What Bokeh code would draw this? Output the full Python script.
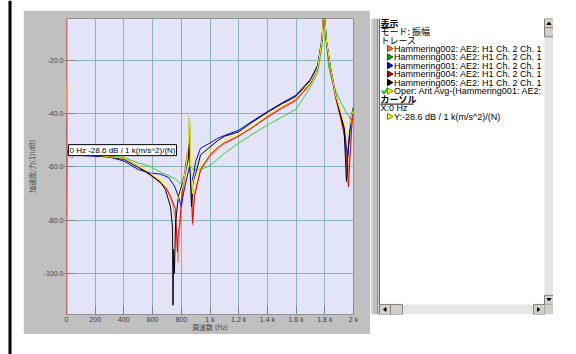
from bokeh.plotting import figure
from bokeh.models import Range1d, FixedTicker, Label, Span, Spacer
from bokeh.layouts import row, column
from bokeh.core.properties import value
from bokeh.embed import file_html
from bokeh.resources import INLINE

# ---------------- data ----------------
x_ticks = [0, 200, 400, 600, 800, 1000, 1200, 1400, 1600, 1800, 2000]
x_tick_labels = ["0", "200", "400", "600", "800", "1 k", "1.2 k", "1.4 k", "1.6 k", "1.8 k", "2 k"]
y_ticks = [-100, -80, -60, -40, -20]
y_tick_labels = ["-100.0", "-80.0", "-60.0", "-40.0", "-20.0"]

f_002 = [0, 4, 10, 35, 60, 100, 200, 300, 400, 500, 600, 650, 700, 740, 760, 778, 786, 800, 830, 850,
         857, 866, 880, 892, 934, 1000, 1052, 1100, 1200, 1300, 1400, 1500, 1600, 1700, 1750, 1780, 1795, 1810, 1840, 1875,
         1910, 1935, 1962, 1975, 1990, 2000]
db_002 = [-29, -50, -55, -57, -55.3, -55.4, -55.6, -56.2, -56.9, -59.8, -63.3, -65.5, -68.5, -74, -80, -96, -86, -75, -62, -54,
          -52.5, -63, -82, -70, -61.5, -56, -53.5, -51.5, -48.5, -45, -41, -37.5, -34.5, -28.5, -23, -13, -1, -12, -23.5, -33.5,
          -41, -46.5, -63, -55, -43, -40]

f_003 = [0, 4, 10, 60, 100, 200, 300, 400, 500, 584, 655, 700, 760, 795, 830, 857, 866, 885, 934, 1000,
         1100, 1200, 1300, 1400, 1500, 1600, 1700, 1750, 1780, 1792, 1800, 1812, 1826, 1850, 1880, 1910, 1950, 1979, 1990, 2000]
db_003 = [-55, -54, -55, -55.2, -55.3, -55.4, -55.9, -56.5, -58.5, -59.8, -62, -63, -64.6, -66.4, -62, -54.6, -60, -61, -61, -59.5,
          -55, -51, -47.6, -44.3, -41.3, -38.3, -30, -24.5, -15, -6, -2, -14, -22, -27.5, -32, -35.5, -39.5, -41.7, -39.5, -37]

f_001 = [0, 4, 10, 60, 100, 200, 300, 400, 500, 584, 655, 712, 750, 780, 800, 815, 835, 857, 870, 885,
         900, 934, 1000, 1052, 1100, 1200, 1300, 1400, 1500, 1600, 1700, 1750, 1780, 1790, 1795, 1800, 1810, 1840, 1875, 1910,
         1935, 1950, 1958, 1968, 1982, 2000]
db_001 = [-40, -52, -55, -55.5, -55.7, -56, -56.3, -57.8, -61, -62.3, -62.7, -64, -67, -71, -75, -70, -65, -60, -66, -63,
          -58, -53, -51, -49.3, -48.2, -46.2, -42.6, -39.2, -36, -33, -27, -21.8, -12, -4, 0, -4, -12, -22.5, -32.5, -40,
          -45, -52, -56.5, -51, -43, -38]

f_004 = [0, 4, 10, 60, 100, 200, 300, 400, 500, 584, 690, 725, 760, 773, 779, 788, 808, 843, 857, 871,
         878, 892, 934, 1000, 1052, 1100, 1200, 1300, 1400, 1500, 1600, 1700, 1750, 1780, 1790, 1795, 1800, 1810, 1840, 1875,
         1910, 1935, 1955, 1965, 1975, 1990, 2000]
db_004 = [-78, -56, -55, -55.3, -55.4, -55.6, -56.2, -56.8, -59.7, -63, -67.5, -71, -76, -92, -85, -82, -68.6, -54, -51.7, -68.6,
          -81, -71, -61, -55.5, -52.8, -51, -48.4, -45, -41.3, -38, -35, -28.7, -23, -13, -5, -1, -5, -13, -24, -34,
          -41.5, -48, -60, -67.5, -57, -43, -40]

f_005 = [0, 4, 10, 60, 100, 200, 300, 400, 500, 584, 655, 690, 725, 739, 742, 746, 752, 760, 780, 815,
         850, 857, 864, 871, 885, 934, 1000, 1052, 1100, 1200, 1300, 1400, 1500, 1600, 1700, 1750, 1780, 1790, 1795, 1800,
         1810, 1840, 1875, 1910, 1935, 1951, 1958, 1965, 1980, 2000]
db_005 = [-48, -47, -54.5, -55.3, -55.5, -55.7, -56.3, -57.2, -60.2, -63, -65.7, -68.6, -75, -83, -112, -91, -100, -81, -71, -65,
          -56.5, -39, -65, -75, -66, -55.5, -52.5, -50.2, -48.5, -46.8, -43, -39.5, -36.3, -33.5, -27.5, -22.3, -12, -4, 0, -4,
          -12, -23, -33, -40.6, -46, -65.5, -58, -52, -42, -38]

f_op = [0, 4, 10, 60, 100, 200, 300, 400, 500, 584, 655, 725, 780, 808, 836, 850, 857, 864, 878, 892,
        934, 1000, 1052, 1100, 1200, 1300, 1400, 1500, 1600, 1700, 1750, 1780, 1790, 1795, 1800, 1810, 1840, 1875, 1910, 1935,
        1950, 1960, 1975, 1990, 2000]
db_op = [-28.6, -44, -54, -55.3, -55.4, -55.6, -56.2, -56.8, -59.7, -62, -65, -69.4, -72, -67.5, -59, -50, -39, -58, -70, -65,
         -58.3, -54, -51.6, -50, -47.6, -44, -40.3, -37, -34, -28, -22.8, -12.5, -4, 0, -4, -12, -23, -33, -39, -43.5,
         -46.5, -48, -44, -40, -38.5]

series_names = ["Hammering002", "Hammering003", "Hammering001", "Hammering004", "Hammering005", "Oper"]
series_freqs = [f_002, f_003, f_001, f_004, f_005, f_op]
series_dbs = [db_002, db_003, db_001, db_004, db_005, db_op]
series_colors = ["#ff8060", "#30d030", "#0000ff", "#e00000", "#000000", "#ffff00"]

cursor_text = "0 Hz -28.6 dB / 1 k(m/s^2)/(N)"
cursor_y = -53.7

legend_rows = ["表示", "モード: 振幅", "トレース",
               "Hammering002: AE2: H1 Ch. 2 Ch. 1",
               "Hammering003: AE2: H1 Ch. 2 Ch. 1",
               "Hammering001: AE2: H1 Ch. 2 Ch. 1",
               "Hammering004: AE2: H1 Ch. 2 Ch. 1",
               "Hammering005: AE2: H1 Ch. 2 Ch. 1",
               "Oper: Arit Avg-(Hammering001: AE2:",
               "カーソル", "X:0 Hz",
               "Y:-28.6 dB / 1 k(m/s^2)/(N)"]
legend_marker_colors = ["#ff7040", "#00b000", "#0000e0", "#c00000", "#000000", "#ffff00"]


def blank(width, height):
    f = figure(width=width, height=height, x_range=Range1d(0, width), y_range=Range1d(height, 0),
               output_backend="svg", toolbar_location=None, min_border=0, margin=0,
               x_axis_type=None, y_axis_type=None,
               background_fill_color="white", border_fill_color="white", outline_line_color=None)
    return f


# ---------------- main plot ----------------
p = figure(width=347, height=324, x_range=Range1d(0, 2000), y_range=Range1d(-115.5, -4.2),
           output_backend="svg", toolbar_location=None,
           min_border_left=43, min_border_right=17, min_border_top=8, min_border_bottom=14,
           background_fill_color="#e4e4f8", border_fill_color="#c0c0c0",
           outline_line_color="#909090", margin=0)

for f, d, c in zip(series_freqs, series_dbs, series_colors):
    p.line(f, d, line_color=c, line_width=1)

p.xaxis.ticker = FixedTicker(ticks=x_ticks)
p.xaxis.major_label_overrides = {t: l for t, l in zip(x_ticks, x_tick_labels)}
p.yaxis.ticker = FixedTicker(ticks=y_ticks)
p.yaxis.major_label_overrides = {t: l for t, l in zip(y_ticks, y_tick_labels)}

for ax in (p.xaxis[0], p.yaxis[0]):
    ax.axis_line_color = None
    ax.minor_tick_line_color = None
    ax.major_tick_line_color = "#808080"
    ax.major_label_text_font = "Liberation Sans"
    ax.major_label_text_font_size = "7px"
    ax.major_label_text_color = "#404040"
    ax.major_label_standoff = 0
    ax.axis_label_text_font = "Noto Sans CJK JP"
    ax.axis_label_text_font_size = "7px"
    ax.axis_label_text_font_style = "normal"
    ax.axis_label_text_color = "#404040"

p.xaxis.major_tick_in = 8
p.xaxis.major_tick_out = 0
p.xaxis.major_label_standoff = 1
p.xaxis.axis_label = "周波数 (Hz)"
p.xaxis.axis_label_standoff = -4
p.yaxis.major_tick_in = 9
p.yaxis.major_tick_out = 3
p.yaxis.axis_label = "加速度/力(1)(dB)"
p.yaxis.axis_label_standoff = 4

p.xgrid.grid_line_color = "#88b4b8"
p.ygrid.grid_line_color = "#88b4b8"

p.add_layout(Span(location=0, dimension="height", line_color="#ff5a5a", line_width=2))
p.add_layout(Label(x=0, y=cursor_y, x_offset=2, text=cursor_text, text_font="Liberation Sans",
                   text_font_size="8px", text_baseline="middle", text_color="black",
                   background_fill_color="white", border_line_color="black", padding=1))

# ---------------- legend / info panel ----------------
lp = blank(175, 324)

row_y = [5 + 9.3 * i for i in range(len(legend_rows))]
jp_idx = [0, 1, 2, 9]
bold_idx = [0, 9]
lat_idx = [i for i in range(len(legend_rows)) if i not in jp_idx]
text_x = [2, 2, 2, 15.5, 15.5, 15.5, 15.5, 15.5, 15.5, 2, 2, 15.5]

lp.text(x=[text_x[i] for i in jp_idx if i not in bold_idx], y=[row_y[i] for i in jp_idx if i not in bold_idx],
        text=[legend_rows[i] for i in jp_idx if i not in bold_idx],
        text_font=value("Noto Sans CJK JP"), text_font_size="9px", text_baseline="middle", text_color="black")
lp.text(x=[text_x[i] for i in bold_idx], y=[row_y[i] for i in bold_idx],
        text=[legend_rows[i] for i in bold_idx], text_font_style="bold",
        text_font=value("Noto Sans CJK JP"), text_font_size="9px", text_baseline="middle", text_color="black")
lp.text(x=[text_x[i] for i in lat_idx], y=[row_y[i] for i in lat_idx],
        text=[legend_rows[i] for i in lat_idx],
        text_font=value("Liberation Sans"), text_font_size="9px", text_baseline="middle", text_color="black")

lp.segment(x0=[2, 2], y0=[row_y[0] + 5, row_y[9] + 5], x1=[14, 35], y1=[row_y[0] + 5, row_y[9] + 5],
           line_color="black", line_width=1)

tri_rows = [3, 4, 5, 6, 7, 8, 11]
tri_cols = legend_marker_colors + ["#ffff00"]
tri_lines = ["#a04020", "#006000", "#000080", "#600000", "#000000", "#808000", "#808000"]
lp.patches(xs=[[9, 9, 14.5] for _ in tri_rows],
           ys=[[row_y[r] - 3.5, row_y[r] + 3.5, row_y[r]] for r in tri_rows],
           fill_color=tri_cols, line_color=tri_lines, line_width=1)
lp.line(x=[3.5, 5.5, 9.5], y=[row_y[8] - 0.5, row_y[8] + 2.5, row_y[8] - 3.5], line_color="#20c020", line_width=2)

lp.quad(left=[0], right=[1.3], top=[0], bottom=[324], fill_color="#404040", line_color=None)
lp.quad(left=[166, 1], right=[175, 166], top=[0, 313], bottom=[313, 324], fill_color="#e6e6e6", line_color=None)
lp.quad(left=[166, 166, 166, 1, 12, 155], right=[175, 175, 175, 12, 24, 166],
        top=[0, 10, 303, 313, 313, 313], bottom=[10, 20, 313, 324, 324, 324],
        fill_color="#d4d0c8", line_color="#808080", line_width=1)
lp.quad(left=[166], right=[175], top=[313], bottom=[324], fill_color="#d4d0c8", line_color=None)
lp.patches(xs=[[168.5, 172.5, 170.5], [168.5, 172.5, 170.5], [7.5, 7.5, 5], [159, 159, 161.5]],
           ys=[[6.5, 6.5, 4], [306.5, 306.5, 309], [316.5, 320.5, 318.5], [316.5, 320.5, 318.5]],
           fill_color="black", line_color="black")

# ---------------- page frame pieces ----------------
left_strip = blank(23, 354)
left_strip.quad(left=[8], right=[11], top=[0], bottom=[354], fill_color="black", line_color=None)

splitter = blank(8, 324)
splitter.quad(left=[0, 2, 7], right=[2, 7, 8], top=[0, 0, 0], bottom=[324, 324, 324],
              fill_color=["#d4d4d4", "#c0c0c0", "#404040"], line_color=None)

layout = row(left_strip,
             column(Spacer(width=530, height=10, margin=0), row(p, splitter, lp, spacing=0, margin=0),
                    spacing=0, margin=0),
             spacing=0, margin=0)

open("out.html", "w").write(file_html(layout, INLINE))
